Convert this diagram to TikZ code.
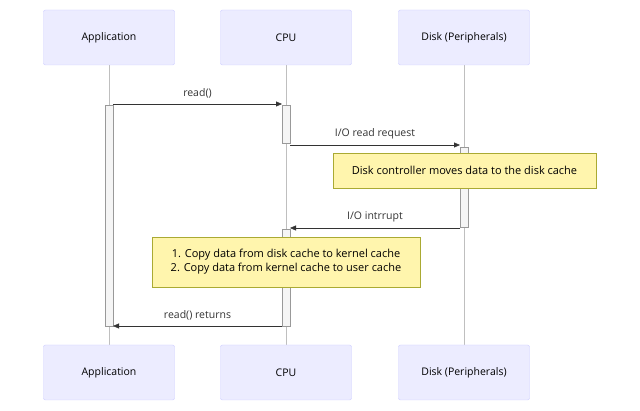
\documentclass[tikz,border=0pt]{standalone}
\usepackage{fontspec}
\setmainfont{Open Sans}
\usetikzlibrary{positioning,arrows.meta}
\definecolor{actfill}{HTML}{ECECFF}
\definecolor{actline}{HTML}{CCCCFF}
\definecolor{notefill}{HTML}{FFF5AD}
\definecolor{noteline}{HTML}{AAAA33}
\definecolor{txt}{HTML}{333333}
\tikzset{
  actor/.style={draw=actline,fill=actfill,minimum width=131pt,minimum height=55pt,rounded corners=2pt,text=black,font=\fontsize{10.5}{13}\selectfont},
  bar/.style={draw=gray!80,fill=gray!8},
  note/.style={draw=noteline,fill=notefill,font=\fontsize{11}{14}\selectfont,text=black,align=left,inner sep=1pt},
  msg/.style={draw=txt,-{Triangle[length=6pt,width=5pt]}},
  lbl/.style={text=txt,font=\fontsize{10.5}{13}\selectfont}
}
\begin{document}
\begin{tikzpicture}[x=1pt,y=-1pt]
\useasboundingbox (0,0) rectangle (640,411);
% participants
\foreach \n/\x/\t in {app/109/Application,cpu/286/CPU,disk/464/Disk (Peripherals)} {
  \draw[gray!50] (\x,65) -- (\x,345);
  \node[actor] (\n) at (\x,37.5) {\t};
  \node[actor] (\n b) at (\x,372.5) {\t};
}
% activations
\draw[bar] (105,105) rectangle (113,326);
\draw[bar] (282,105) rectangle (290,143);
\draw[bar] (460,147) rectangle (468,227);
\draw[bar] (282,229) rectangle (290,326);
% messages
\coordinate (a1) at (113,104); \coordinate (c1) at (282,104);
\coordinate (c2) at (290,145); \coordinate (d2) at (460,145);
\coordinate (d3) at (460,228); \coordinate (c3) at (290,228);
\coordinate (c4) at (282,326); \coordinate (a4) at (113,326);
\draw[msg] (a1) -- node[lbl,above=2pt] {read()} (c1);
\draw[msg] (c2) -- node[lbl,above=2pt] {I/O read request} (d2);
\node[note,minimum width=263pt,minimum height=35pt] (n1) at (464.5,170.5) {Disk controller moves data to the disk cache};
\draw[msg] (d3) -- node[lbl,above=2pt] {I/O intrrupt} (c3);
\node[note,minimum width=268pt,minimum height=50pt,align=center] (n2) at (286,262) {1. Copy data from disk cache to kernel cache\\2. Copy data from kernel cache to user cache};
\draw[msg] (c4) -- node[lbl,above=2pt] {read() returns} (a4);
\end{tikzpicture}
\end{document}
